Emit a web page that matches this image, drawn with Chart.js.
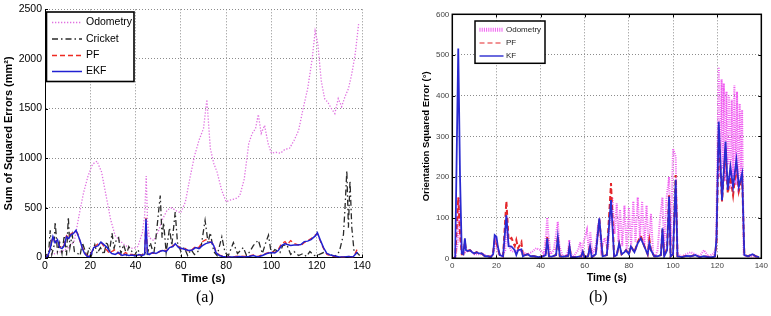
<!DOCTYPE html>
<html><head><meta charset="utf-8">
<script src="https://cdn.jsdelivr.net/npm/chart.js@4/dist/chart.umd.min.js"></script>
<style>
html,body{margin:0;padding:0;background:#fff;width:771px;height:316px;overflow:hidden}
.wrap{position:absolute;top:0}
.cap{position:absolute;top:288px;font-family:"Liberation Serif","DejaVu Serif",serif;font-size:16px;color:#000}
</style></head><body>
<div class="wrap" style="left:0;width:385px;height:290px"><canvas id="ca" width="385" height="290"></canvas></div>
<div class="wrap" style="left:385px;width:386px;height:290px"><canvas id="cb" width="386" height="290"></canvas></div>
<div class="cap" style="left:196px">(a)</div>
<div class="cap" style="left:589px">(b)</div>
<script>
// ---------- (a) Sum of squared position errors ----------
const xTicksA = [0,20,40,60,80,100,120,140];
const yTicksA = [0,500,1000,1500,2000,2500];
const labelsA = ["Odometry","Cricket","PF","EKF"];

const tOdoA = [0,3,6,9,11,13,15,17,19,21,
  23,25,27,29,31,33,35,37,39,41,
  43,44,44.7,45.3,46,48,50,52,54,56,
  58,60,62,64,66,68,70,71.5,73,74.5,
  76,78,80,82,84,86,88,90,91.5,93,
  94.2,95.5,97,98.5,100,102,104,106,108,110,
  112,114,116,118,119.3,120.5,122,123.5,125,126.5,
  128,129.5,131,132.5,134,135.5,137,138.5];
const odoA = [20,30,50,80,110,170,420,650,820,940,
  970,860,620,380,220,170,130,100,90,110,
  250,420,820,350,200,170,260,390,480,500,
  470,450,560,800,1020,1180,1300,1590,1100,950,
  860,680,560,580,590,620,790,1150,1250,1300,
  1440,1250,1330,1150,1050,1060,1050,1090,1100,1180,
  1280,1500,1700,2000,2280,2150,1780,1600,1560,1500,
  1450,1600,1520,1620,1700,1850,2050,2350];

const tFilA = [0,1,2,3,3.5,4.5,5.5,6.5,7.5,8.5,
  9.5,10.5,11.5,12.5,13.7,14.5,15.5,16.5,17.5,18.5,
  19.5,20.5,21.5,22.5,23.5,24.7,25.5,26.5,27.5,28.5,
  29.5,31,32.5,34,35.5,37,38.5,40,41.5,43,
  44,44.6,45.2,46,47.5,49,50.5,52,53.5,55,
  56.5,57.5,59,60.5,62,63.5,65,66.5,68,69.5,
  71,72.5,73.5,74.5,75.5,77,78.5,80,82,84,
  86,88,90,92,94,96,98,100,101.5,103,
  104.5,106,107,108.5,110,111.5,113,114.5,116,117.5,
  118.5,119.5,120.3,121.5,123,124.5,126,128,130,132,
  134,136,137,138];
const ekfA = [0,10,60,160,210,150,180,100,90,120,
  210,190,230,240,275,230,170,90,40,15,
  5,40,100,110,120,155,140,120,100,60,
  40,30,50,20,30,20,25,15,30,20,
  30,390,40,30,50,40,60,70,60,100,
  110,140,100,90,80,70,75,100,90,120,
  140,150,155,120,50,20,10,5,5,5,
  10,5,10,20,5,20,40,50,45,70,
  120,140,130,120,125,125,130,160,165,180,
  200,220,250,180,100,40,25,15,5,5,
  10,5,30,55];
const pfA = [0,15,70,170,200,160,170,110,100,130,
  220,200,240,250,265,240,160,100,50,20,
  10,50,90,120,140,150,130,90,70,40,
  60,80,40,20,50,30,30,20,25,30,
  40,400,50,40,45,40,55,80,70,90,
  120,130,110,80,90,60,80,110,100,160,
  180,160,150,130,60,25,15,8,8,10,
  15,10,15,25,10,30,45,60,50,80,
  140,160,130,170,140,130,120,150,170,190,
  210,230,240,170,90,30,20,10,5,5,
  10,5,40,90];

const tCriA = [0,1.5,2.3,3,4,4.5,5.5,6.5,7.5,8.5,
  9.5,10.3,11,12,13,14,15.5,16.5,17.5,18.5,
  19.5,20.5,22,23,24.5,26,27.3,28.5,29.6,30.5,
  31.5,32.5,33.5,34.7,36,37,38.4,39.5,41,42.5,
  44,45,46.5,48,49,50.9,51.7,52.4,53.5,55,
  56,57.5,58.5,60,61.5,63,64.5,66,67.5,69,
  70.7,72,73,74.5,76,78.1,79.5,81,83.2,85,
  87.6,89,90.5,92,94.2,96,97.5,98.7,100,101.5,
  103.8,105,106.8,108.5,110,112,114,115.5,117,119,
  121,123,125.9,128,130,131.8,132.5,133.3,134,134.7,
  135.5,136.5,137.7,139];
const criA = [40,10,275,30,120,358,60,150,40,220,
  20,408,100,230,60,50,20,150,80,10,
  100,20,130,40,100,30,160,60,245,90,
  180,200,40,130,30,110,60,20,80,10,
  60,20,150,30,200,625,200,350,50,300,
  120,458,150,60,100,20,80,30,60,120,
  375,150,250,60,20,208,50,20,150,40,
  100,20,60,120,175,40,150,225,30,80,
  50,120,130,30,60,20,40,10,60,20,
  30,50,30,10,60,230,500,875,300,775,
  300,60,50,20];

// ---------- (b) Orientation squared error ----------
const xTicksB = [0,20,40,60,80,100,120,140];
const yTicksB = [0,100,200,300,400,500,600];
const labelsB = ["Odometry","PF","KF"];

const tOdoB = [0,1.5,2.5,3,3.5,4.5,6,8,10,12,
  14,16,18,19,19.6,20.3,21,22.5,24,24.6,
  25.3,26.5,28,30,32,34,36,38,40,41.5,
  42.5,43,43.5,44.5,46,47,47.8,48.5,50,51.5,
  52.5,53,53.5,55,57,58,58.7,59.5,61,62,
  62.5,63.5,65,66,66.6,67.5,69,70.5,71.5,72.5,
  73.5,74.5,75.3,76,77,78,79,80,81,82,
  83,84,85,86,87,88,89,90,91,92,
  93,94,95.2,96,97,98.2,99,100,101.2,102,
  104,106,108,110,112,114,116,118,119.5,120.2,
  120.7,121.3,122,122.5,123,123.6,124.2,124.8,125.4,126,
  126.6,127.2,127.8,128.4,129,129.6,130.2,130.8,131.3,132,
  133,135,137,139];
const odoB = [0,5,40,150,60,10,15,20,10,10,
  10,5,5,20,55,30,10,5,20,100,
  40,20,15,20,15,10,15,25,20,10,
  60,100,60,10,20,60,90,30,5,5,
  20,45,10,5,20,40,10,40,70,10,
  65,10,30,80,90,20,50,20,100,150,
  60,135,40,120,30,130,20,125,30,140,
  40,150,50,140,30,130,20,110,10,5,
  20,90,150,20,145,200,30,270,250,10,
  5,10,15,10,5,20,5,10,20,300,
  470,200,440,220,430,190,410,230,400,170,
  390,200,425,180,410,160,380,200,365,10,
  5,5,5,0];

const tFilB = [0,1.3,2.7,3.5,4.3,5,5.7,6.2,7,8,
  9,10,11,12,13.3,14.8,16,17.5,18.5,19.2,
  20,20.6,21.5,23,24.5,25.5,26.8,28.3,29,29.8,
  31.3,32,33,34.2,35.5,37,39,41,42.3,43,
  43.8,45,47,47.8,48.7,50,52.5,53.1,53.8,56,
  58.4,59.1,59.8,61.5,62.4,63.2,65,66.6,68.1,70,
  71.9,73.3,74.5,75.6,76.7,78,78.7,80,80.9,82.5,
  84,85.4,87,88.5,89.3,90,91.5,93,94.5,95.2,
  96,97.3,98.2,98.9,100,101.2,102,104,106,108,
  110,112,114,116,118,119,119.7,120.7,122.2,123.8,
  124.8,126,127.2,128.7,129.8,131.3,132.3,134,136,137.5,
  139];
const kfB = [0,0,516,200,12,10,49,20,18,20,
  15,12,15,12,12,5,5,3,10,57,
  53,30,8,5,106,30,29,20,8,20,
  22,5,8,10,5,5,3,5,8,49,
  5,4,8,52,5,4,6,29,3,3,
  5,16,3,5,29,3,10,98,5,8,
  143,5,8,37,10,15,20,10,29,15,
  37,49,29,10,37,20,5,5,8,74,
  5,20,152,5,10,193,5,3,6,5,
  8,3,5,3,3,5,49,336,143,287,
  168,225,176,242,176,209,8,5,10,5,
  3];
const pfB = [0,0,150,60,10,10,40,20,18,20,
  15,12,15,12,12,5,5,3,15,45,
  40,25,8,5,140,45,50,30,45,25,
  40,5,8,10,5,5,3,5,8,52,
  5,4,8,55,5,4,6,30,3,3,
  5,18,3,5,32,3,10,95,5,8,
  185,5,8,35,10,15,20,10,30,15,
  40,55,30,10,45,20,5,5,8,70,
  5,25,155,5,10,205,5,3,6,5,
  8,3,5,3,3,5,40,310,140,270,
  160,200,155,230,165,200,8,5,10,5,
  3];

// ---------- helpers ----------
const pts = (ts, vs) => ts.map((t, i) => ({x: t, y: vs[i]}));
const FONT = "'Liberation Sans', Arial, Helvetica, sans-serif";

const framePlugin = {
  id: 'frame',
  afterDatasetsDraw(chart, args, o) {
    const {ctx, chartArea: a, scales} = chart;
    ctx.save();
    ctx.setLineDash([]);
    ctx.strokeStyle = '#000';
    ctx.lineWidth = 1;
    const L = o.tick;
    ctx.beginPath();
    scales.x.ticks.forEach(t => {
      const x = Math.round(scales.x.getPixelForValue(t.value)) + 0.5;
      ctx.moveTo(x, a.bottom); ctx.lineTo(x, a.bottom - L);
      if (o.box) { ctx.moveTo(x, a.top); ctx.lineTo(x, a.top + L); }
    });
    scales.y.ticks.forEach(t => {
      const y = Math.round(scales.y.getPixelForValue(t.value)) + 0.5;
      ctx.moveTo(a.left, y); ctx.lineTo(a.left + L, y);
      if (o.box) { ctx.moveTo(a.right, y); ctx.lineTo(a.right - L, y); }
    });
    ctx.stroke();
    if (o.box) {
      ctx.lineWidth = o.lw;
      ctx.strokeRect(a.left, a.top, a.right - a.left, a.bottom - a.top);
    }
    const lg = o.legend;
    ctx.fillStyle = '#fff';
    ctx.fillRect(lg.x, lg.y, lg.w, lg.h);
    ctx.lineWidth = lg.lw;
    ctx.strokeStyle = '#000';
    ctx.strokeRect(lg.x, lg.y, lg.w, lg.h);
    ctx.font = lg.font;
    ctx.textBaseline = 'middle';
    ctx.textAlign = 'left';
    lg.rows.forEach((yy, i) => {
      const ds = chart.data.datasets[i];
      ctx.save();
      ctx.strokeStyle = ds.borderColor;
      ctx.lineWidth = ds.legendWidth || ds.borderWidth;
      ctx.setLineDash(ds.borderDash || []);
      ctx.beginPath();
      ctx.moveTo(lg.s0, yy); ctx.lineTo(lg.s1, yy);
      ctx.stroke();
      ctx.restore();
      ctx.fillStyle = lg.color;
      ctx.fillText(ds.label, lg.tx, yy);
    });
    ctx.restore();
  }
};

function fixW(w){ return s => { s.width = w; }; }
function fixH(h){ return s => { s.height = h; }; }

// ---------- chart (a) ----------
new Chart(document.getElementById('ca'), {
  type: 'line',
  data: { datasets: [
    {label: labelsA[0], data: pts(tOdoA, odoA), borderColor: '#e070e0', borderWidth: 1.3, borderDash: [1.3, 1.7], order: 3},
    {label: labelsA[1], data: pts(tCriA, criA), borderColor: '#2a2a2a', borderWidth: 1.3, borderDash: [6, 3, 1.5, 3], order: 2},
    {label: labelsA[2], data: pts(tFilA, pfA), borderColor: '#ee2b22', borderWidth: 1.3, borderDash: [5, 3], order: 1},
    {label: labelsA[3], data: pts(tFilA, ekfA), borderColor: '#2121d2', borderWidth: 1.5, order: 0}
  ]},
  options: {
    responsive: false, animation: false, events: [],
    elements: { point: { radius: 0 }, line: { tension: 0 } },
    layout: { padding: { left: 0, right: 23, top: 7.5, bottom: 0 } },
    plugins: {
      legend: { display: false }, tooltip: { enabled: false },
      frame: { tick: 3, box: false, lw: 1,
        legend: { x: 46.5, y: 12, w: 87.5, h: 69.5, lw: 1.6, s0: 52, s1: 82, tx: 86,
                  rows: [22.5, 39, 55.5, 71.5], font: '10.5px ' + FONT, color: '#000' } }
    },
    scales: {
      x: { type: 'linear', min: 0, max: 140, afterFit: fixH(32.5),
        afterBuildTicks: s => { s.ticks = xTicksA.map(v => ({value: v})); },
        ticks: { font: { family: FONT, size: 10.5 }, color: '#000', padding: 2, maxRotation: 0, callback: v => String(v) },
        grid: { color: '#8c8c8c', lineWidth: 1, drawTicks: false },
        border: { display: true, color: '#000', width: 1, dash: [1, 2] },
        title: { display: true, text: 'Time (s)', color: '#000', font: { family: FONT, size: 11.5, weight: 'bold' }, padding: { top: 0, bottom: 4 } } },
      y: { type: 'linear', min: 0, max: 2500, afterFit: fixW(45),
        afterBuildTicks: s => { s.ticks = yTicksA.map(v => ({value: v})); },
        ticks: { font: { family: FONT, size: 10.5 }, color: '#000', padding: 3, callback: v => String(v) },
        grid: { color: '#8c8c8c', lineWidth: 1, drawTicks: false },
        border: { display: true, color: '#000', width: 1, dash: [1, 2] },
        title: { display: true, text: 'Sum of Squared Errors (mm²)', color: '#000', font: { family: FONT, size: 11, weight: 'bold' }, padding: { top: 2, bottom: 0 } } }
    }
  },
  plugins: [framePlugin]
});

// ---------- chart (b) ----------
new Chart(document.getElementById('cb'), {
  type: 'line',
  data: { datasets: [
    {label: labelsB[0], data: pts(tOdoB, odoB), borderColor: '#f05cf0', borderWidth: 2, legendWidth: 4, borderDash: [1, 1.2], order: 2},
    {label: labelsB[1], data: pts(tFilB, pfB), borderColor: '#e4262a', borderWidth: 2, legendWidth: 1.2, borderDash: [5, 3], order: 1},
    {label: labelsB[2], data: pts(tFilB, kfB), borderColor: '#2a2ad0', borderWidth: 1.8, legendWidth: 1.4, order: 0}
  ]},
  options: {
    responsive: false, animation: false, events: [],
    elements: { point: { radius: 0 }, line: { tension: 0 } },
    layout: { padding: { left: 0, right: 8.3, top: 14.3, bottom: 0 } },
    plugins: {
      legend: { display: false }, tooltip: { enabled: false },
      frame: { tick: 3, box: true, lw: 1.5,
        legend: { x: 90, y: 21, w: 70, h: 42.3, lw: 1.5, s0: 94.5, s1: 118.5, tx: 121,
                  rows: [29.7, 43, 56], font: '8px ' + FONT, color: '#222' } }
    },
    scales: {
      x: { type: 'linear', min: 0, max: 140, afterFit: fixH(31.7),
        afterBuildTicks: s => { s.ticks = xTicksB.map(v => ({value: v})); },
        ticks: { font: { family: FONT, size: 8 }, color: '#444', padding: 3, maxRotation: 0, callback: v => String(v) },
        grid: { color: '#8c8c8c', lineWidth: 1, drawTicks: false },
        border: { display: false, dash: [1, 2] },
        title: { display: true, text: 'Time (s)', color: '#000', font: { family: FONT, size: 10.5, weight: 'bold' }, padding: { top: 0, bottom: 6 } } },
      y: { type: 'linear', min: 0, max: 600, afterFit: fixW(67.3),
        afterBuildTicks: s => { s.ticks = yTicksB.map(v => ({value: v})); },
        ticks: { font: { family: FONT, size: 8 }, color: '#444', padding: 3, callback: v => String(v) },
        grid: { color: '#8c8c8c', lineWidth: 1, drawTicks: false },
        border: { display: false, dash: [1, 2] },
        title: { display: true, text: 'Orientation Squared Error (°)', color: '#000', font: { family: FONT, size: 9.5, weight: 'bold' }, padding: { top: 36, bottom: 0 } } }
    }
  },
  plugins: [framePlugin]
});
</script>
</body></html>
